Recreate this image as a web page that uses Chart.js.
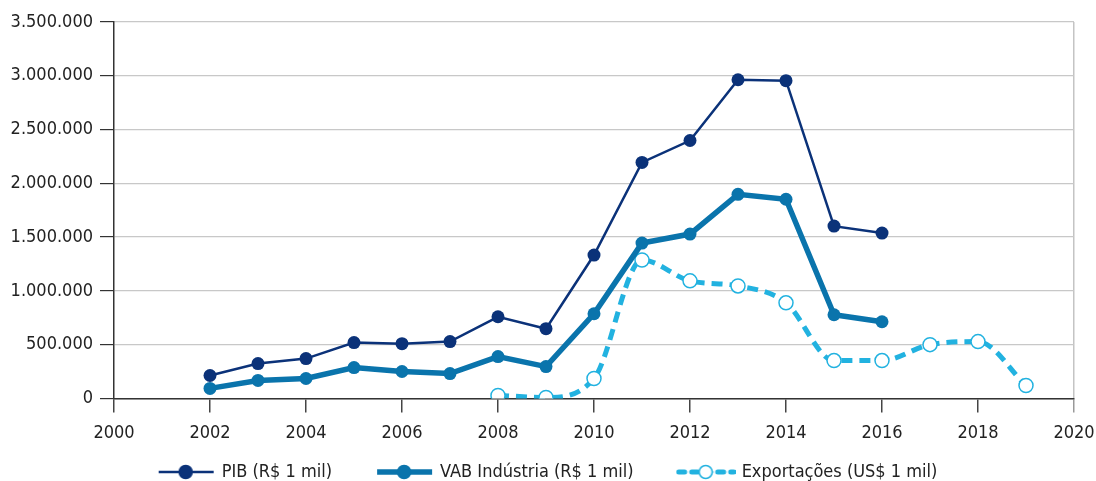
<!DOCTYPE html>
<html>
<head>
<meta charset="utf-8">
<script src="https://cdn.jsdelivr.net/npm/chart.js@4"></script>
<style>
  html, body { margin: 0; padding: 0; background: #fff; }
  #wrap { position: relative; width: 1096px; height: 481px; }
</style>
</head>
<body>
<div id="wrap"><canvas id="c" width="1096" height="481"></canvas></div>
<script>
// years
const anosRS = [2002, 2003, 2004, 2005, 2006, 2007, 2008, 2009, 2010, 2011, 2012, 2013, 2014, 2015, 2016];
const anosExp = [2008, 2009, 2010, 2011, 2012, 2013, 2014, 2015, 2016, 2017, 2018, 2019];

// values
const pib = [213000, 324000, 370000, 519000, 509000, 528000, 759000, 648000, 1333000, 2194000, 2398000, 2963000, 2954000, 1602000, 1537000];
const vabIndustria = [93000, 167000, 185000, 287000, 250000, 231000, 389000, 296000, 787000, 1444000, 1528000, 1898000, 1852000, 778000, 713000];
const exportacoes = [28000, 9000, 185000, 1287000, 1093000, 1046000, 889000, 352000, 352000, 500000, 528000, 120000];

const rotulos = ["PIB (R$ 1 mil)", "VAB Indústria (R$ 1 mil)", "Exportações (US$ 1 mil)"];

const COR_PIB = "#0b3279";
const COR_VAB = "#0a74ac";
const COR_EXP = "#22b2e0";

const pts = (xs, ys) => xs.map((x, i) => ({x: x, y: ys[i]}));
const fmt = v => String(v).replace(/\B(?=(\d{3})+(?!\d))/g, ".");

// little legend sample: line + marker
const amostra = (cor, largura, tracejado, aberto) => {
	const cv = document.createElement("canvas");
	cv.width = 60; cv.height = 18;
	const g = cv.getContext("2d");
	g.strokeStyle = cor;
	g.lineWidth = largura;
	g.setLineDash(tracejado || []);
	g.lineCap = tracejado ? "round" : "butt";
	g.beginPath(); g.moveTo(3, 9); g.lineTo(58, 9); g.stroke();
	g.setLineDash([]);
	g.beginPath(); g.arc(30, 9, 6.5, 0, Math.PI * 2);
	g.fillStyle = aberto ? "#fff" : cor;
	g.fill();
	g.lineWidth = 1.5;
	g.strokeStyle = cor;
	g.stroke();
	return cv;
};
const amostras = [
	amostra(COR_PIB, 2.5),
	amostra(COR_VAB, 5.5),
	amostra(COR_EXP, 5, [6, 7], true),
];

// push the legend a bit lower than chart.js puts it
const desceLegenda = {
	id: "desceLegenda",
	afterLayout(chart) {
		chart.legend.top += 5;
		chart.legend.bottom += 5;
	},
};

const fonte = {family: "'DejaVu Sans Condensed', 'DejaVu Sans', sans-serif", size: 18};

new Chart(document.getElementById("c"), {
	type: "line",
	data: {
		datasets: [{
			label: rotulos[0],
			data: pts(anosRS, pib),
			borderColor: COR_PIB,
			backgroundColor: COR_PIB,
			borderWidth: 2.5,
			pointRadius: 6.5,
			pointBorderWidth: 0,
			tension: 0,
		}, {
			label: rotulos[1],
			data: pts(anosRS, vabIndustria),
			borderColor: COR_VAB,
			backgroundColor: COR_VAB,
			borderWidth: 5.5,
			pointRadius: 6.5,
			pointBorderWidth: 0,
			tension: 0,
		}, {
			label: rotulos[2],
			data: pts(anosExp, exportacoes),
			borderColor: COR_EXP,
			backgroundColor: "#fff",
			borderWidth: 5,
			borderDash: [11, 7],
			pointRadius: 7,
			pointBorderWidth: 1.5,
			pointBorderColor: COR_EXP,
			pointBackgroundColor: "#fff",
			cubicInterpolationMode: "monotone",
		}],
	},
	options: {
		responsive: false,
		animation: false,
		layout: {padding: {top: 22, right: 0, left: 0, bottom: -5}},
		scales: {
			x: {
				type: "linear",
				min: 2000,
				max: 2020,
				ticks: {stepSize: 2, color: "#222", font: fonte, padding: 10, callback: v => String(v)},
				grid: {
					drawOnChartArea: true,
					color: ctx => ctx.tick && ctx.tick.value === 2020 ? "#c4c4c4" : "rgba(0,0,0,0)",
					tickColor: ctx => ctx.tick && ctx.tick.value === 2020 ? "#999" : "#444",
					tickLength: 14,
					lineWidth: 1.5,
				},
				border: {color: "#333", width: 1.5},
				afterFit: s => { s.paddingRight = 22; },
			},
			y: {
				min: 0,
				max: 3500000,
				ticks: {stepSize: 500000, color: "#222", font: fonte, padding: 7, callback: v => fmt(v)},
				grid: {color: "#c8c8c8", tickColor: "#333", tickLength: 14, lineWidth: 1.2},
				border: {color: "#333", width: 1.5},
				afterFit: s => { s.width = 114; },
			},
		},
		plugins: {
			legend: {
				position: "bottom",
				labels: {
					usePointStyle: true,
					pointStyleWidth: 54,
					color: "#222",
					font: fonte,
					padding: 4,
					// trailing spaces give the wide gap between entries
					generateLabels: chart => chart.data.datasets.map((d, i) => ({
						text: i < 2 ? d.label + "        " : d.label,
						pointStyle: amostras[i],
						datasetIndex: i,
						fontColor: "#222",
						hidden: false,
					})),
				},
			},
			tooltip: {enabled: false},
		},
	},
	plugins: [desceLegenda],
});
</script>
</body>
</html>
